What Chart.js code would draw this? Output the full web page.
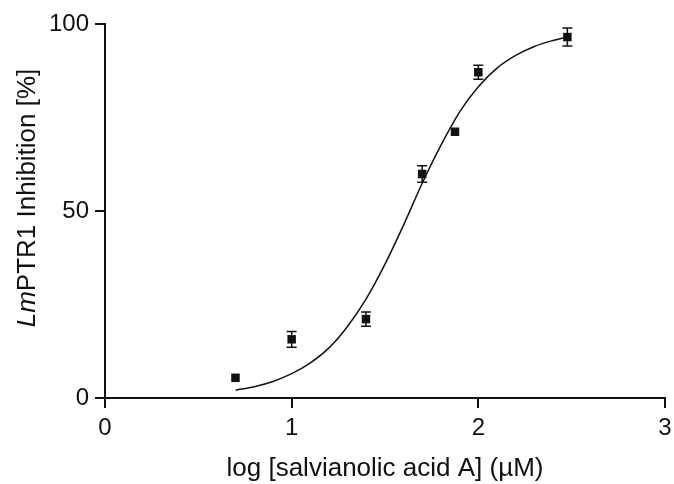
<!DOCTYPE html>
<html>
<head>
<meta charset="utf-8">
<script src="https://cdn.jsdelivr.net/npm/chart.js@4.4.1/dist/chart.umd.min.js"></script>
<style>
  html, body { margin: 0; padding: 0; background: #fff; }
  #wrap { width: 674px; height: 484px; }
</style>
</head>
<body>
<div id="wrap"><canvas id="chart" width="674" height="484"></canvas></div>
<script>
// Measured points: log concentration, mean inhibition, error (SEM)
const logConc = [0.699, 1.0, 1.398, 1.699, 1.875, 2.0, 2.477];
const inhibition = [5.4, 15.7, 21.1, 59.9, 71.2, 87.1, 96.5];
const errors = [0, 2.1, 1.9, 2.2, 0, 1.9, 2.4];

// Fitted curve
const curveX = [0.7, 0.8, 0.9, 1.0, 1.1, 1.2, 1.3, 1.4, 1.5, 1.6, 1.7, 1.8, 1.9, 2.0, 2.1, 2.2, 2.3, 2.4, 2.48];
const curveY = [2.1, 3.0, 4.4, 6.5, 9.4, 13.4, 19.2, 26.6, 35.8, 46.3, 57.5, 67.6, 76.5, 83.2, 88.2, 91.6, 94.0, 95.6, 96.6];

const xTicks = [0, 1, 2, 3];
const yTicks = [0, 50, 100];

const FONT = "'Liberation Sans', Arial, sans-serif";
const INK = '#111';

// Error bars with caps
const errorBarPlugin = {
    id: 'errorBars',
    afterDatasetsDraw(chart) {
        const ctx = chart.ctx;
        const xs = chart.scales.x;
        const ys = chart.scales.y;
        ctx.save();
        ctx.strokeStyle = INK;
        ctx.lineWidth = 1.5;
        logConc.forEach((x, i) => {
            if (!errors[i]) return;
            const px = xs.getPixelForValue(x);
            const top = ys.getPixelForValue(inhibition[i] + errors[i]);
            const bot = ys.getPixelForValue(inhibition[i] - errors[i]);
            ctx.beginPath();
            ctx.moveTo(px, top); ctx.lineTo(px, bot);
            ctx.moveTo(px - 5, top); ctx.lineTo(px + 5, top);
            ctx.moveTo(px - 5, bot); ctx.lineTo(px + 5, bot);
            ctx.stroke();
        });
        ctx.restore();
    }
};

// Y axis title with italic "Lm"
const yTitlePlugin = {
    id: 'yTitle',
    afterDraw(chart) {
        const ctx = chart.ctx;
        const parts = [
            { text: 'Lm', font: 'italic 26px ' + FONT },
            { text: 'PTR1 Inhibition [%]', font: '26px ' + FONT }
        ];
        ctx.save();
        let total = 0;
        parts.forEach(p => { ctx.font = p.font; p.w = ctx.measureText(p.text).width; total += p.w; });
        ctx.translate(28, 198);
        ctx.rotate(-Math.PI / 2);
        ctx.fillStyle = INK;
        ctx.textBaseline = 'middle';
        ctx.textAlign = 'left';
        let x = -total / 2;
        parts.forEach(p => { ctx.font = p.font; ctx.fillText(p.text, x, 0); x += p.w; });
        ctx.restore();
    }
};

new Chart(document.getElementById('chart'), {
    type: 'scatter',
    data: {
        datasets: [{
            type: 'line',
            data: curveX.map((x, i) => ({ x: x, y: curveY[i] })),
            borderColor: INK,
            borderWidth: 1.5,
            pointRadius: 0,
            fill: false,
            cubicInterpolationMode: 'monotone'
        }, {
            data: logConc.map((x, i) => ({ x: x, y: inhibition[i] })),
            backgroundColor: INK,
            borderColor: INK,
            pointStyle: 'rect',
            pointRadius: 6,
            pointBorderWidth: 0
        }]
    },
    options: {
        responsive: false,
        animation: false,
        layout: { padding: { top: 24, right: 9, left: 0, bottom: 0 } },
        plugins: {
            legend: { display: false },
            tooltip: { enabled: false }
        },
        scales: {
            x: {
                type: 'linear',
                min: 0,
                max: 3,
                afterBuildTicks: s => { s.ticks = xTicks.map(v => ({ value: v })); },
                afterFit: s => { s.height = 86; s.paddingLeft = 0; s.paddingRight = 0; },
                grid: { drawOnChartArea: false, drawTicks: true, tickLength: 10, color: INK, lineWidth: 2 },
                border: { display: true, color: INK, width: 2 },
                ticks: { color: INK, font: { family: FONT, size: 24 }, padding: 6, maxRotation: 0 },
                title: {
                    display: true,
                    text: 'log [salvianolic acid A] (µM)',
                    color: INK,
                    font: { family: FONT, size: 26 },
                    padding: { top: 10, bottom: 0 }
                }
            },
            y: {
                min: 0,
                max: 100,
                afterBuildTicks: s => { s.ticks = yTicks.map(v => ({ value: v })); },
                afterFit: s => { s.width = 105; s.paddingTop = 0; s.paddingBottom = 0; },
                grid: { drawOnChartArea: false, drawTicks: true, tickLength: 10, color: INK, lineWidth: 2 },
                border: { display: true, color: INK, width: 2 },
                ticks: { color: INK, font: { family: FONT, size: 24 }, padding: 6 }
            }
        }
    },
    plugins: [errorBarPlugin, yTitlePlugin]
});
</script>
</body>
</html>
